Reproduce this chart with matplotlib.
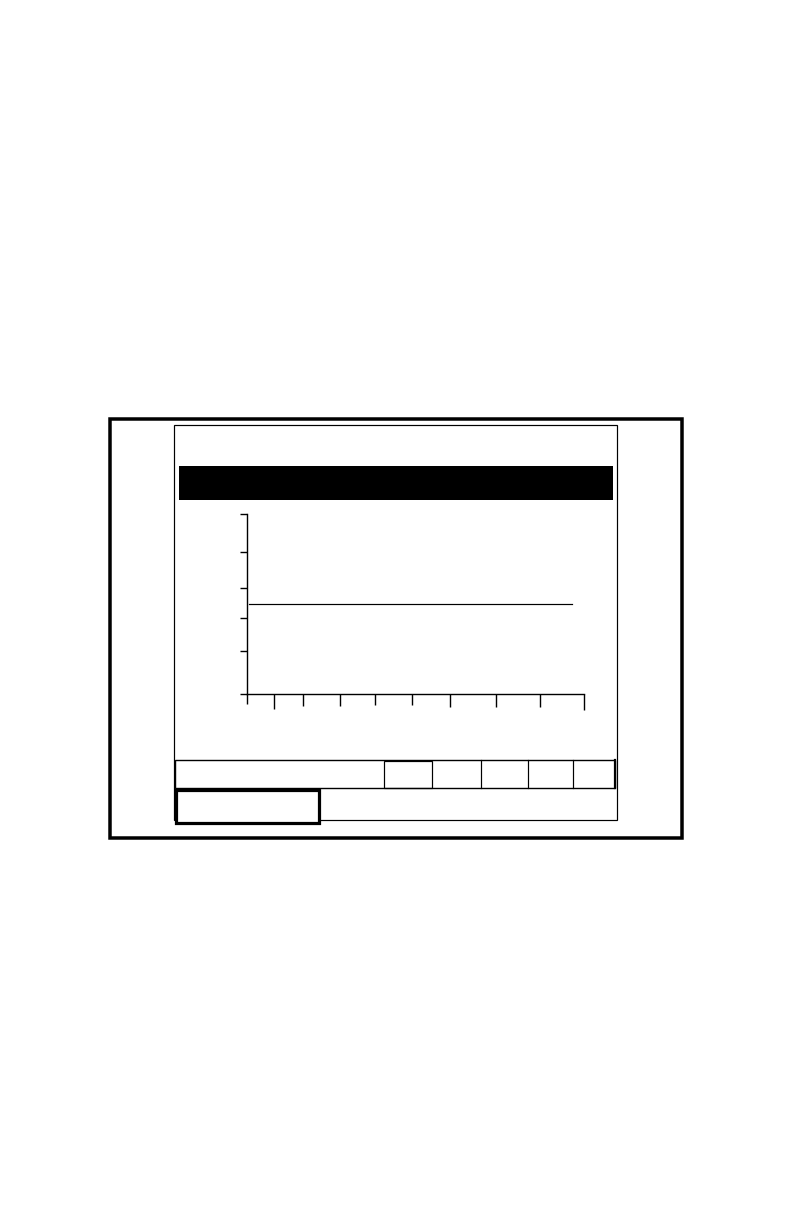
import matplotlib
matplotlib.use("Agg")
import matplotlib.pyplot as plt
from matplotlib.patches import Rectangle

W, H = 792, 1224
PT = 0.72  # points per pixel at dpi 100

# trend axis ticks (axis span = 0..1)
x_ticks = [0.0, 0.0785, 0.167, 0.277, 0.381, 0.491, 0.604, 0.741, 0.869, 1.0]
y_ticks = [0.0, 0.239, 0.420, 0.586, 0.785, 1.0]

# the flat trend line
line_x = [0.005, 0.966]
line_y = [0.497, 0.497]

# tick lengths in pixels (style)
x_tick_len = [10, 15, 12.3, 12.3, 11, 11, 12.7, 13, 12.7, 16]
y_tick_len = 7.3

fig = plt.figure(figsize=(W / 100, H / 100), dpi=100)

# page / frame drawing in pixel coordinates
bg = fig.add_axes([0, 0, 1, 1])
bg.set_xlim(0, W)
bg.set_ylim(H, 0)
bg.axis("off")


def box(x0, y0, x1, y1, lw_px, face="none"):
    bg.add_patch(Rectangle((x0, y0), x1 - x0, y1 - y0, facecolor=face,
                           edgecolor="black", linewidth=lw_px * PT))


box(110, 418.7, 681.7, 837.7, 3.5)          # outer frame
box(174.2, 425, 617.4, 820.2, 1.2)          # screen
box(178.7, 466, 613, 500, 0, face="black")  # title bar
box(175, 759.5, 615, 788.3, 1.4)            # button row
box(384.3, 761.3, 431.7, 788.3, 1.2)        # selected button
for xd in [481.3, 528.3, 573.3]:
    bg.plot([xd, xd], [759.5, 788.3], color="black", lw=1.2 * PT)
bg.plot([615, 615], [759.5, 788.3], color="black", lw=2.2 * PT)
box(175.5, 790.3, 319, 822.8, 3.2, face="white")  # thick bottom-left box

# trend plot
x0, x1 = 247.3, 583.6
ytop, ybot = 513.5, 694.3
ax = fig.add_axes([x0 / W, (H - ybot) / H, (x1 - x0) / W, (ybot - ytop) / H])
ax.patch.set_alpha(0)
ax.set_xlim(0, 1)
ax.set_ylim(0, 1)
for s in ["top", "right"]:
    ax.spines[s].set_visible(False)
for s in ["left", "bottom"]:
    ax.spines[s].set_linewidth(1.4 * PT)
ax.set_xticks(x_ticks)
ax.set_yticks(y_ticks)
ax.set_xticklabels([])
ax.set_yticklabels([])
ax.tick_params(direction="out", width=1.4 * PT, length=y_tick_len * PT)
for t, ln in zip(ax.xaxis.get_major_ticks(), x_tick_len):
    t.tick1line.set_markersize(ln * PT)

ax.plot(line_x, line_y, color="black", lw=1.2 * PT, clip_on=False)

fig.savefig("out.png", dpi=100)
